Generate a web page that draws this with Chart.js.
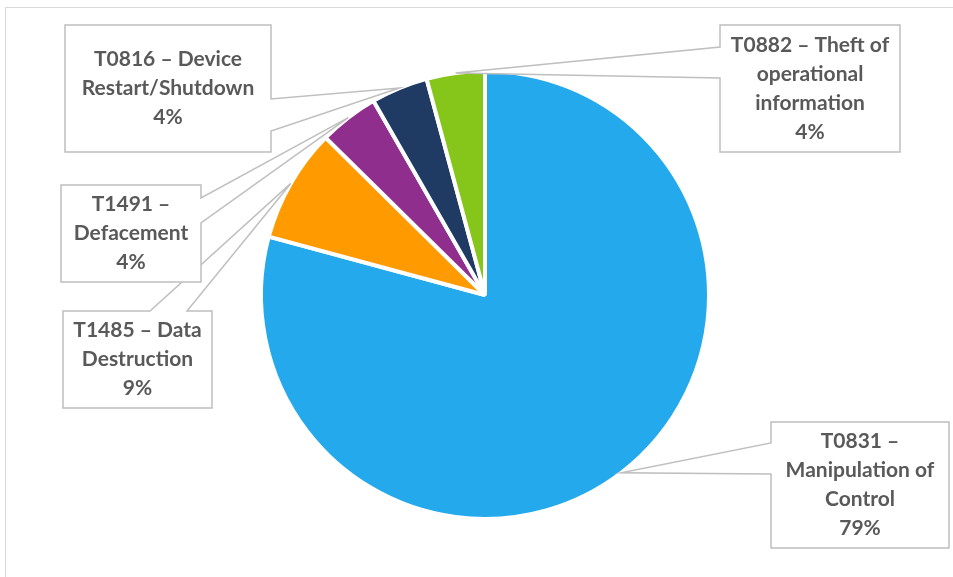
<!DOCTYPE html>
<html>
<head>
<meta charset="utf-8">
<script src="https://cdn.jsdelivr.net/npm/chart.js@4"></script>
<style>
  html, body { margin: 0; padding: 0; background: #fff; }
  #wrap { position: relative; width: 953px; height: 577px; }
  #frame { position: absolute; left: 5px; top: 7px; width: 960px; height: 600px; border: 1.5px solid #d9d9d9; box-sizing: border-box; }
</style>
</head>
<body>
<div id="wrap">
  <div id="frame"></div>
  <canvas id="myChart" width="953" height="577"></canvas>
</div>
<script>
// data
const techniques = ['T0831 – Manipulation of Control', 'T1485 – Data Destruction', 'T1491 – Defacement', 'T0816 – Device Restart/Shutdown', 'T0882 – Theft of operational information'];
const shares = [79.2, 8.2, 4.3, 4.1, 4.2];
const shareLabels = ['79%', '9%', '4%', '4%', '4%'];
const sliceColors = ['#23a9ec', '#ff9a00', '#8f2e8c', '#1f3a63', '#86c51a'];

// callout layout (box + where the wedge leaves the box), label lines as wrapped in the picture
const callouts = [
  { lines: ['T0831 –', 'Manipulation of', 'Control'], box: [771, 422, 178, 126], side: 'left', at: [443, 474] },
  { lines: ['T1485 – Data', 'Destruction'], box: [63, 311, 149, 97], side: 'top', at: [150, 187] },
  { lines: ['T1491 –', 'Defacement'], box: [61, 185, 140, 97], side: 'right', at: [198, 223] },
  { lines: ['T0816 – Device', 'Restart/Shutdown'], box: [65, 25, 206, 127], side: 'right', at: [99, 131] },
  { lines: ['T0882 – Theft of', 'operational', 'information'], box: [720, 25, 180, 127], side: 'left', at: [47, 78] }
];

const calloutPlugin = {
  id: 'callouts',
  afterDraw(chart) {
    const ctx = chart.ctx;
    const arcs = chart.getDatasetMeta(0).data;
    ctx.save();
    callouts.forEach((c, i) => {
      const arc = arcs[i];
      const mid = (arc.startAngle + arc.endAngle) / 2;
      const ax = arc.x + Math.cos(mid) * arc.outerRadius;
      const ay = arc.y + Math.sin(mid) * arc.outerRadius;
      const [x, y, w, h] = c.box;
      const r = x + w, b = y + h;
      ctx.beginPath();
      ctx.moveTo(x, y);
      if (c.side === 'top') { ctx.lineTo(c.at[0], y); ctx.lineTo(ax, ay); ctx.lineTo(c.at[1], y); }
      ctx.lineTo(r, y);
      if (c.side === 'right') { ctx.lineTo(r, c.at[0]); ctx.lineTo(ax, ay); ctx.lineTo(r, c.at[1]); }
      ctx.lineTo(r, b);
      ctx.lineTo(x, b);
      if (c.side === 'left') { ctx.lineTo(x, c.at[1]); ctx.lineTo(ax, ay); ctx.lineTo(x, c.at[0]); }
      ctx.closePath();
      ctx.fillStyle = '#ffffff';
      ctx.fill();
      ctx.strokeStyle = '#bfbfbf';
      ctx.lineWidth = 1.5;
      ctx.stroke();

      const lines = c.lines.concat([shareLabels[i]]);
      const lh = 29;
      const cy = y + h / 2 - (lines.length - 1) * lh / 2;
      ctx.fillStyle = '#595959';
      ctx.font = 'bold 21px Lato';
      ctx.textAlign = 'center';
      ctx.textBaseline = 'middle';
      lines.forEach((t, k) => ctx.fillText(t, x + w / 2, cy + k * lh));
    });
    ctx.restore();
  }
};

new Chart(document.getElementById('myChart'), {
  type: 'pie',
  data: {
    labels: techniques,
    datasets: [{
      data: shares,
      backgroundColor: sliceColors,
      borderColor: '#ffffff',
      borderWidth: 4
    }]
  },
  options: {
    responsive: false,
    animation: false,
    layout: { padding: { left: 259, right: 242, top: 69, bottom: 56 } },
    plugins: {
      legend: { display: false },
      tooltip: { enabled: false }
    }
  },
  plugins: [calloutPlugin]
});
</script>
</body>
</html>
